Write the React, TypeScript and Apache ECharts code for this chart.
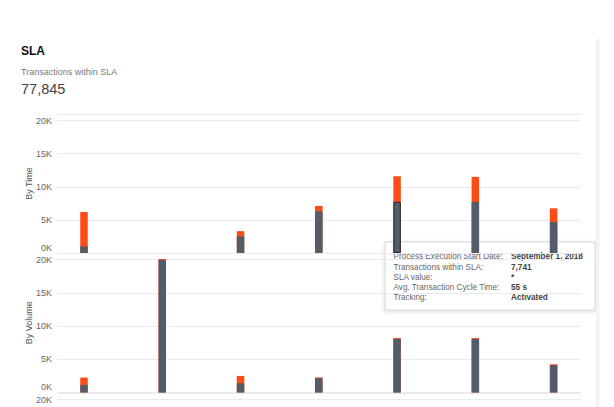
import React, { useEffect, useRef } from "react";
import * as echarts from "echarts";

const days = [0, 1, 2, 3, 4, 5, 6];
const timeWithin = [1000, 0, 2500, 6300, 7741, 7700, 4700];
const timeOutside = [5200, 0, 800, 800, 3850, 3800, 2050];
const volumeWithin = [1150, 19950, 1400, 2150, 8050, 8050, 4100];
const volumeOutside = [1100, 150, 1100, 120, 150, 150, 150];
const tipLabels = [
  "Process Execution Start Date:",
  "Transactions within SLA:",
  "SLA value:",
  "Avg. Transaction Cycle Time:",
  "Tracking:",
];
const tipValues = ["September 1, 2018", "7,741", "*", "55 s", "Activated"];
const hoveredIndex = 4;

const FONT = "Liberation Sans, Arial, Helvetica, sans-serif";
const DARK = "#535c67";
const ORANGE = "#fd4b16";

export default function App() {
  const ref = useRef<HTMLDivElement>(null);
  useEffect(() => {
    document.body.style.margin = "0";
    const chart = echarts.init(ref.current!, null, { renderer: "svg" });
    const grids = [
      { left: 57, top: 114, width: 524, height: 139, outerBoundsMode: "none" },
      { left: 57, top: 253, width: 524, height: 139.5, outerBoundsMode: "none" },
      { left: 57, top: 393, width: 524, height: 139, outerBoundsMode: "none" },
    ];
    const names = ["By Time", "By Volume", ""];
    const yAxes = grids.map((_, i) => ({
      type: "value",
      gridIndex: i,
      min: 0,
      max: 21000,
      interval: 5000,
      name: names[i],
      nameLocation: "middle",
      nameGap: 24,
      nameMoveOverlap: false,
      nameTextStyle: { fontSize: 9, color: "#555", fontFamily: FONT },
      axisLine: { show: false },
      axisTick: { show: false },
      splitLine: { lineStyle: { color: "#ebebeb", width: 1 } },
      axisLabel: {
        fontSize: 9,
        color: "#666",
        fontFamily: FONT,
        margin: 5,
        formatter: (v: number) => {
          if (v % 5000 !== 0) return "";
          if (i === 2 && v !== 20000) return "";
          return v === 0 ? "{z|0K}" : v / 1000 + "K";
        },
        rich: {
          z: { fontSize: 9, color: "#666", fontFamily: FONT, padding: [0, 0, 11, 0] },
        },
      },
    }));
    const xAxes = grids.map((_, i) => ({
      type: "value",
      gridIndex: i,
      min: -0.345,
      max: 6.35,
      show: false,
    }));
    const mk = (vals: number[]) => days.map((d, i) => [d, vals[i]]);
    const totals = (a: number[], b: number[]) => a.map((v, i) => v + b[i]);
    const common = { type: "bar", barWidth: 7.5, barGap: "-100%" };
    const series: any[] = [
      {
        ...common,
        name: "Outside SLA",
        xAxisIndex: 0,
        yAxisIndex: 0,
        z: 2,
        itemStyle: { color: ORANGE },
        data: mk(totals(timeWithin, timeOutside)),
      },
      {
        ...common,
        name: "Within SLA",
        xAxisIndex: 0,
        yAxisIndex: 0,
        z: 3,
        itemStyle: { color: DARK },
        data: mk(timeWithin).map((p, i) =>
          i === hoveredIndex
            ? { value: p, itemStyle: { color: DARK, borderColor: "#2a2a2a", borderWidth: 1 } }
            : { value: p }
        ),
      },
      {
        ...common,
        name: "Outside SLA",
        xAxisIndex: 1,
        yAxisIndex: 1,
        z: 2,
        itemStyle: { color: ORANGE },
        data: mk(totals(volumeWithin, volumeOutside)),
      },
      {
        ...common,
        name: "Within SLA",
        xAxisIndex: 1,
        yAxisIndex: 1,
        z: 3,
        itemStyle: { color: DARK },
        data: mk(volumeWithin),
      },
    ];
    const rowY = [14.7, 25, 35.3, 45.6, 55.9];
    const tipChildren: any[] = [
      {
        type: "rect",
        shape: { x: 0, y: 0, width: 210, height: 68 },
        style: {
          fill: "#fff",
          stroke: "#d6d6d6",
          lineWidth: 1,
          shadowBlur: 4,
          shadowOffsetY: 1,
          shadowColor: "rgba(0,0,0,0.15)",
        },
      },
    ];
    tipLabels.forEach((t, i) => {
      tipChildren.push({
        type: "text",
        x: 8.5,
        y: rowY[i],
        style: {
          text: t,
          fill: "#666",
          fontSize: 8.2,
          fontFamily: FONT,
          verticalAlign: "middle",
        },
      });
      tipChildren.push({
        type: "text",
        x: 126,
        y: rowY[i],
        style: {
          text: tipValues[i],
          fill: "#444",
          fontSize: 8.2,
          fontWeight: "bold",
          fontFamily: FONT,
          verticalAlign: "middle",
        },
      });
    });
    chart.setOption({
      animation: false,
      title: [
        {
          text: "SLA",
          left: 21,
          top: 44.5,
          padding: 0,
          textStyle: { fontSize: 12, fontWeight: "bold", color: "#111", fontFamily: FONT },
        },
        {
          text: "Transactions within SLA",
          left: 21,
          top: 67,
          padding: 0,
          textStyle: { fontSize: 9, fontWeight: "normal", color: "#777", fontFamily: FONT },
        },
        {
          text: "77,845",
          left: 21,
          top: 81,
          padding: 0,
          textStyle: { fontSize: 14.5, fontWeight: "normal", color: "#444", fontFamily: FONT },
        },
      ],
      grid: grids,
      xAxis: xAxes,
      yAxis: yAxes,
      series,
      graphic: [
        {
          type: "rect",
          shape: { x: 596, y: 39, width: 3.5, height: 520 },
          style: { fill: "#f3f3f3" },
          z: 1,
        },
        {
          type: "group",
          x: 385,
          y: 242,
          z: 100,
          children: tipChildren,
        },
      ],
    });
    return () => chart.dispose();
  }, []);
  return (
    <div
      style={{
        position: "fixed",
        left: 0,
        top: 0,
        width: 614,
        height: 407,
        overflow: "hidden",
        background: "#fff",
      }}
    >
      <div ref={ref} style={{ width: 614, height: 560 }} />
    </div>
  );
}
